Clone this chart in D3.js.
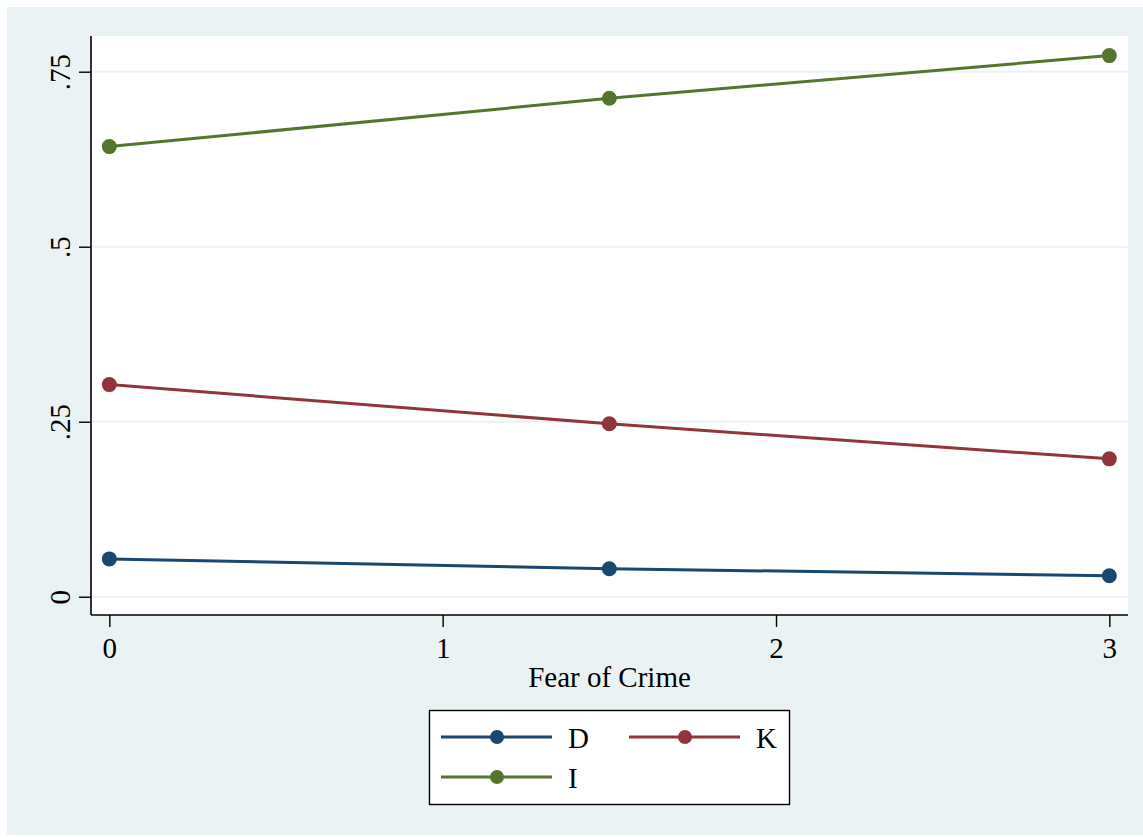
<!DOCTYPE html>
<html>
<head>
<meta charset="utf-8">
<script src="https://cdn.jsdelivr.net/npm/d3@7"></script>
<style>
  html, body { margin: 0; padding: 0; background: #ffffff; }
  svg { display: block; }
  text { font-family: "Liberation Serif", "Times New Roman", serif; fill: #000; }
</style>
</head>
<body>
<svg id="chart" width="1143" height="837"></svg>
<script>
// Predicted probabilities by fear of crime
const fearLevels = [0, 1.5, 3];
const seriesNames = ["D", "K", "I"];
const valuesD = [0.054, 0.040, 0.030];
const valuesK = [0.303, 0.247, 0.197];
const valuesI = [0.643, 0.712, 0.773];
const seriesColors = ["#1a476f", "#90353b", "#55752f"];
const xTicks = [0, 1, 2, 3];
const yTicks = [0, 0.25, 0.5, 0.75];
const yTickLabels = ["0", ".25", ".5", ".75"];
const xTitle = "Fear of Crime";

const series = [valuesD, valuesK, valuesI].map((vals, i) => ({
  name: seriesNames[i],
  color: seriesColors[i],
  points: fearLevels.map((x, j) => ({ x, y: vals[j] }))
}));

const svg = d3.select("#chart");
const W = 1143, H = 837;

// outer graph region
svg.append("rect").attr("x", 7).attr("y", 7).attr("width", W - 7).attr("height", H - 9)
  .attr("fill", "#eaf2f3");

const plot = { left: 91, right: 1128, top: 36, bottom: 615 };
svg.append("rect").attr("x", plot.left).attr("y", plot.top)
  .attr("width", plot.right - plot.left).attr("height", plot.bottom - plot.top)
  .attr("fill", "#ffffff");

const x = d3.scaleLinear().domain([-0.055, 3.056]).range([plot.left, plot.right]);
const y = d3.scaleLinear().domain([-0.0261, 0.801]).range([plot.bottom, plot.top]);

// gridlines
svg.append("g").selectAll("line").data(yTicks).join("line")
  .attr("x1", plot.left).attr("x2", plot.right)
  .attr("y1", d => y(d)).attr("y2", d => y(d))
  .attr("stroke", "#eaf2f3").attr("stroke-width", 2);

// y axis
const yAxis = d3.axisLeft(y).tickValues(yTicks)
  .tickFormat((d, i) => yTickLabels[i]).tickSize(12).tickPadding(0);
const gy = svg.append("g").attr("transform", `translate(${plot.left},0)`).call(yAxis);
gy.select(".domain").attr("d", `M0,${plot.top}V${plot.bottom}`).attr("stroke", "#000").attr("stroke-width", 1.6);
gy.selectAll(".tick line").attr("stroke", "#000").attr("stroke-width", 1.4);
gy.selectAll(".tick text")
  .attr("font-size", 29).attr("font-family", "Liberation Serif")
  .attr("text-anchor", "middle")
  .attr("x", null).attr("dy", null)
  .attr("transform", "translate(-21,0) rotate(-90)");

// x axis
const xAxis = d3.axisBottom(x).tickValues(xTicks).tickFormat(d3.format("d"))
  .tickSize(12).tickPadding(0);
const gx = svg.append("g").attr("transform", `translate(0,${plot.bottom})`).call(xAxis);
gx.select(".domain").attr("d", `M${plot.left},0H${plot.right}`).attr("stroke", "#000").attr("stroke-width", 1.6);
gx.selectAll(".tick line").attr("stroke", "#000").attr("stroke-width", 1.4);
gx.selectAll(".tick text")
  .attr("font-size", 29).attr("font-family", "Liberation Serif")
  .attr("y", 43).attr("dy", null);

svg.append("text").attr("x", (plot.left + plot.right) / 2).attr("y", 687)
  .attr("text-anchor", "middle").attr("font-size", 29).text(xTitle);

// series lines and markers
const line = d3.line().x(d => x(d.x)).y(d => y(d.y));
const gs = svg.append("g");
series.forEach(s => {
  gs.append("path").datum(s.points).attr("d", line)
    .attr("fill", "none").attr("stroke", s.color).attr("stroke-width", 3);
  gs.selectAll(null).data(s.points).join("circle")
    .attr("cx", d => x(d.x)).attr("cy", d => y(d.y)).attr("r", 7.5)
    .attr("fill", s.color);
});

// legend
const lg = svg.append("g");
lg.append("rect").attr("x", 429.5).attr("y", 710.5).attr("width", 360).attr("height", 94)
  .attr("fill", "#fff").attr("stroke", "#000").attr("stroke-width", 1.4);
const slots = [
  { x0: 441, row: 737 },
  { x0: 629, row: 737 },
  { x0: 441, row: 777 }
];
series.forEach((s, i) => {
  const p = slots[i];
  lg.append("line").attr("x1", p.x0).attr("x2", p.x0 + 111)
    .attr("y1", p.row).attr("y2", p.row)
    .attr("stroke", s.color).attr("stroke-width", 3);
  lg.append("circle").attr("cx", p.x0 + 56).attr("cy", p.row).attr("r", 7)
    .attr("fill", s.color);
  lg.append("text").attr("x", p.x0 + 127).attr("y", p.row + 11)
    .attr("font-size", 29).text(s.name);
});
</script>
</body>
</html>
